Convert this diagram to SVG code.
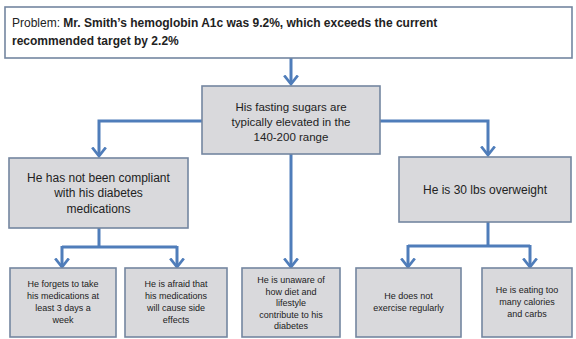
<svg xmlns="http://www.w3.org/2000/svg" width="576" height="339" viewBox="0 0 576 339">
<defs>
<style>
.box{fill:#d9d9dc;stroke:#7486a0;stroke-width:1.6}
.top{fill:#ffffff;stroke:#7486a0;stroke-width:1.6}
.t{font-family:"Liberation Sans",Arial,sans-serif;fill:#222;text-anchor:middle}
.s{font-size:9px}
.conn{fill:none;stroke:#4f7dba;stroke-width:3}
</style>
<marker id="ah" markerUnits="userSpaceOnUse" viewBox="0 0 11 16" refX="9.5" refY="8" markerWidth="11" markerHeight="16" orient="auto">
<path d="M1,1.2 L9.5,8 L1,14.8" fill="none" stroke="#4f7dba" stroke-width="2.8"/>
</marker>
</defs>
<rect width="576" height="339" fill="#ffffff"/>
<g id="connectors">
<path class="conn" d="M291,58 V84" marker-end="url(#ah)"/>
<path class="conn" d="M202,121 H99 V156" marker-end="url(#ah)"/>
<path class="conn" d="M380,121 H488 V155" marker-end="url(#ah)"/>
<path class="conn" d="M291,154 V267" marker-end="url(#ah)"/>
<path class="conn" d="M99,228 V247"/>
<path class="conn" d="M62,247 H177"/>
<path class="conn" d="M62,246 V267" marker-end="url(#ah)"/>
<path class="conn" d="M177,246 V267" marker-end="url(#ah)"/>
<path class="conn" d="M488,222 V246"/>
<path class="conn" d="M408,246 H530"/>
<path class="conn" d="M408,245 V267" marker-end="url(#ah)"/>
<path class="conn" d="M530,245 V267" marker-end="url(#ah)"/>
</g>
<g id="problem">
<rect class="top" x="5" y="7" width="567" height="51"/>
<text font-family="'Liberation Sans',Arial,sans-serif" font-size="12" fill="#222" x="12" y="27">Problem: <tspan font-weight="bold">Mr. Smith’s hemoglobin A1c was 9.2%, which exceeds the current</tspan></text>
<text font-family="'Liberation Sans',Arial,sans-serif" font-size="12" fill="#222" font-weight="bold" x="12" y="45">recommended target by 2.2%</text>
</g>
<g id="fasting">
<rect class="box" x="202" y="86" width="178" height="68"/>
<text class="t" font-size="11.5" x="291" y="111">His fasting sugars are</text>
<text class="t" font-size="11.5" x="291" y="126">typically elevated in the</text>
<text class="t" font-size="11.5" x="291" y="141">140-200 range</text>
</g>
<g id="compliance">
<rect class="box" x="9" y="158" width="179" height="70"/>
<text class="t" font-size="12" x="98.5" y="182">He has not been compliant</text>
<text class="t" font-size="12" x="98.5" y="197">with his diabetes</text>
<text class="t" font-size="12" x="98.5" y="213">medications</text>
</g>
<g id="overweight">
<rect class="box" x="399" y="157" width="172" height="65"/>
<text class="t" font-size="12" x="485" y="194">He is 30 lbs overweight</text>
</g>
<g id="forgets">
<rect class="box" x="10" y="268" width="106" height="69"/>
<text class="t s" x="63" y="287">He forgets to take</text>
<text class="t s" x="63" y="299">his medications at</text>
<text class="t s" x="63" y="311">least 3 days a</text>
<text class="t s" x="63" y="323">week</text>
</g>
<g id="afraid">
<rect class="box" x="125" y="268" width="102" height="69"/>
<text class="t s" x="176" y="287">He is afraid that</text>
<text class="t s" x="176" y="299">his medications</text>
<text class="t s" x="176" y="311">will cause side</text>
<text class="t s" x="176" y="323">effects</text>
</g>
<g id="unaware">
<rect class="box" x="242" y="268" width="98" height="69"/>
<text class="t s" x="291" y="283">He is unaware of</text>
<text class="t s" x="291" y="294.5">how diet and</text>
<text class="t s" x="291" y="306">lifestyle</text>
<text class="t s" x="291" y="317.5">contribute to his</text>
<text class="t s" x="291" y="329">diabetes</text>
</g>
<g id="exercise">
<rect class="box" x="356" y="268" width="105" height="69"/>
<text class="t s" x="408.5" y="299">He does not</text>
<text class="t s" x="408.5" y="311">exercise regularly</text>
</g>
<g id="eating">
<rect class="box" x="482" y="268" width="90" height="69"/>
<text class="t s" x="527" y="293">He is eating too</text>
<text class="t s" x="527" y="305">many calories</text>
<text class="t s" x="527" y="317">and carbs</text>
</g>
</svg>
